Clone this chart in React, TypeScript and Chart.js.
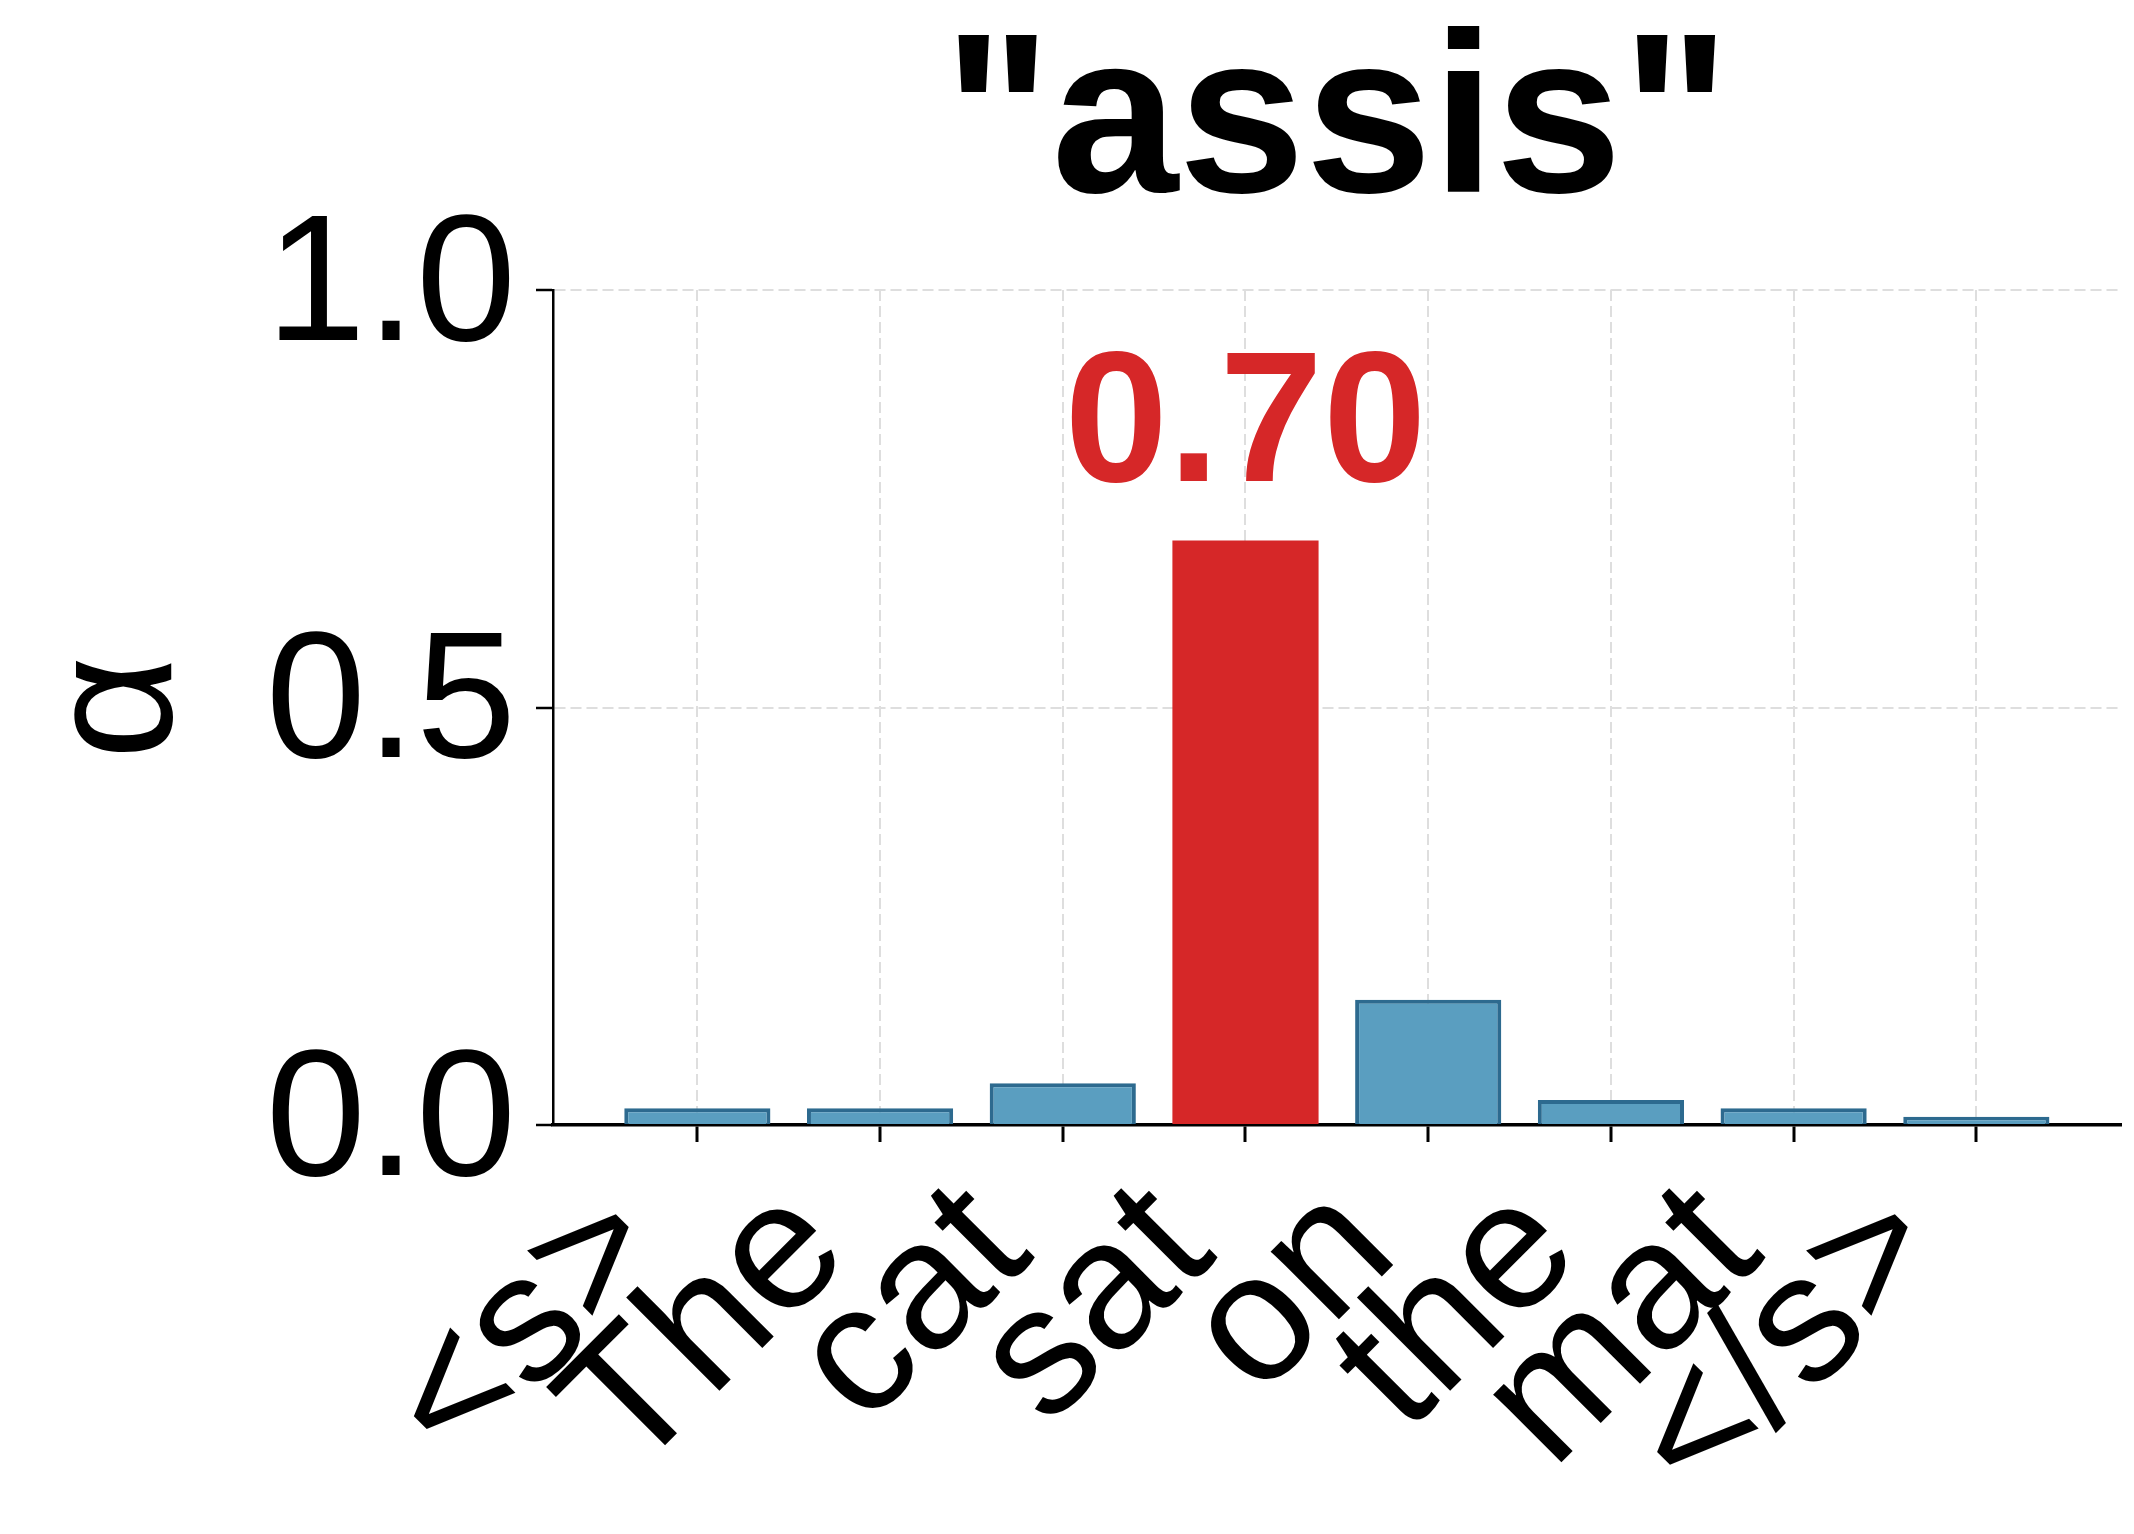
import { useEffect, useRef } from "react"
import { Chart, registerables } from "chart.js"

Chart.register(...registerables)

// tokens on the x axis and the attention weight each one gets
const tokens = ["<s>", "The", "cat", "sat", "on", "the", "mat", "</s>"]
const weights = [0.02, 0.02, 0.05, 0.7, 0.15, 0.03, 0.02, 0.01]
const yTicks = [0, 0.5, 1.0]
const titleText = '"assis"'
const yLabel = "α"

const FONT = "'Liberation Sans', Arial, Helvetica, sans-serif"
const BLUE = "#5a9ec0"
const BLUE_EDGE = "#2d6a8f"
const RED = "#d62728"
const GRID = "#dedede"

const peakIndex = weights.indexOf(Math.max(...weights))

// draws the value of the highlighted bar above it
const peakLabel = {
  id: "peakLabel",
  afterDatasetsDraw(chart: Chart) {
    const bar = chart.getDatasetMeta(0).data[peakIndex] as any
    if (!bar) return
    const ctx = chart.ctx
    ctx.save()
    ctx.font = `bold 186px ${FONT}`
    ctx.fillStyle = RED
    ctx.textAlign = "center"
    ctx.textBaseline = "alphabetic"
    ctx.fillText(weights[peakIndex].toFixed(2), bar.x, bar.y - 60)
    ctx.restore()
  },
}

export default function App() {
  const chartRef = useRef<HTMLCanvasElement>(null)
  const chartInstance = useRef<Chart | null>(null)

  useEffect(() => {
    document.body.style.margin = "0"
    if (!chartRef.current) return
    if (chartInstance.current) chartInstance.current.destroy()
    const ctx = chartRef.current.getContext("2d")
    if (!ctx) return

    chartInstance.current = new Chart(ctx, {
      type: "bar",
      data: {
        datasets: [
          {
            data: weights.map((w, i) => ({ x: i, y: w })),
            backgroundColor: weights.map((_, i) => (i === peakIndex ? RED : BLUE)),
            borderColor: weights.map((_, i) => (i === peakIndex ? RED : BLUE_EDGE)),
            borderWidth: weights.map((_, i) => (i === peakIndex ? 0 : 4)),
            categoryPercentage: 1,
            barPercentage: 0.8,
          },
        ],
      },
      plugins: [peakLabel],
      options: {
        animation: false,
        responsive: true,
        maintainAspectRatio: false,
        layout: { padding: { top: 0, right: 6, bottom: 0, left: 0 } },
        plugins: {
          legend: { display: false },
          tooltip: { enabled: false },
          title: {
            display: true,
            text: titleText,
            fullSize: false,
            color: "#000",
            font: { family: FONT, size: 228, weight: "bold", lineHeight: 1.0 },
            padding: { top: 15, bottom: 47 },
          },
        },
        scales: {
          x: {
            type: "linear",
            min: -0.79,
            max: 7.79,
            offset: false,
            z: 1,
            afterBuildTicks: (scale) => {
              scale.ticks = tokens.map((_, i) => ({ value: i }))
            },
            afterFit: (scale) => {
              scale.height = 409
            },
            grid: {
              offset: false,
              color: GRID,
              lineWidth: 2,
              tickColor: "#000",
              tickWidth: 3,
              tickLength: 17,
            },
            border: { display: true, color: "#000", width: 3.5, dash: [11, 5] },
            ticks: {
              autoSkip: false,
              minRotation: 45,
              maxRotation: 45,
              padding: 2,
              labelOffset: -62,
              color: "#000",
              font: { family: FONT, size: 182 },
              callback: (value) => tokens[value as number] ?? "",
            },
          },
          y: {
            min: 0,
            max: 1,
            z: 1,
            afterBuildTicks: (scale) => {
              scale.ticks = yTicks.map((v) => ({ value: v }))
            },
            afterFit: (scale) => {
              scale.width = 553
            },
            grid: {
              color: GRID,
              lineWidth: 2,
              tickColor: "#000",
              tickWidth: 2.5,
              tickLength: 17,
            },
            border: { display: true, color: "#000", width: 2.5, dash: [11, 5] },
            ticks: {
              padding: 20,
              color: "#000",
              font: { family: FONT, size: 180 },
              callback: (value) => Number(value).toFixed(1),
            },
            title: {
              display: true,
              text: yLabel,
              color: "#000",
              font: { family: FONT, size: 180 },
              padding: { top: 13, bottom: 0 },
            },
          },
        },
      },
    })

    return () => {
      if (chartInstance.current) {
        chartInstance.current.destroy()
        chartInstance.current = null
      }
    }
  }, [])

  return (
    <div style={{ width: 2134, height: 1534, position: "relative" }}>
      <canvas ref={chartRef} />
    </div>
  )
}
